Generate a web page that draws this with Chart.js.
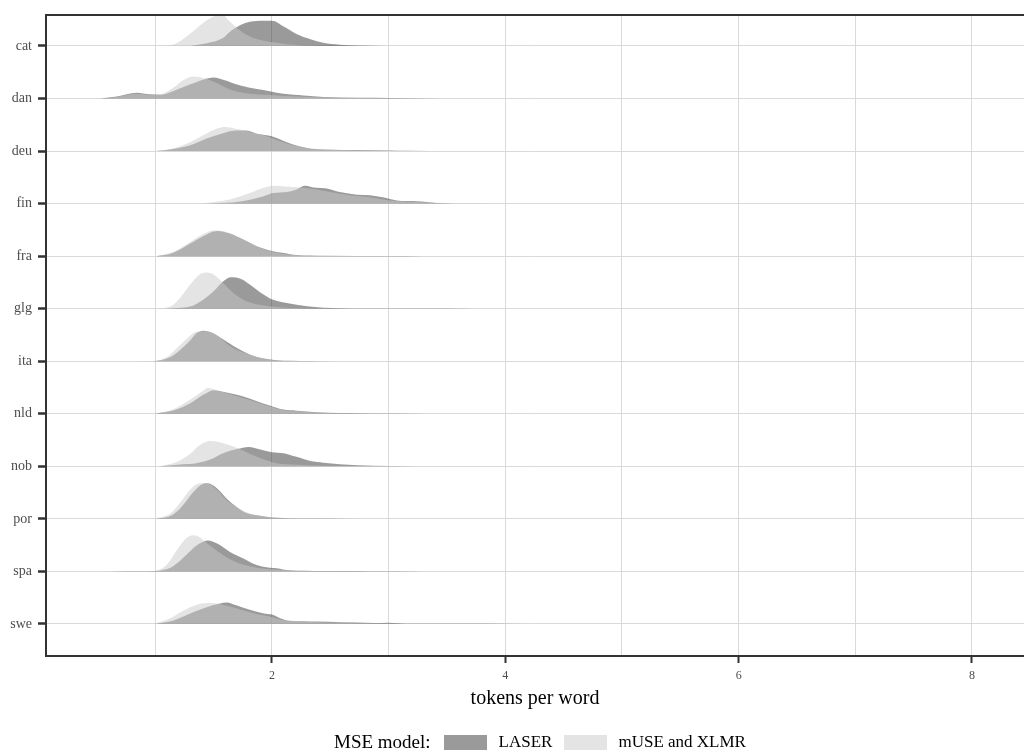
<!DOCTYPE html>
<html>
<head>
<meta charset="utf-8">
<script src="https://cdn.jsdelivr.net/npm/chart.js@4.4.1/dist/chart.umd.min.js"></script>
<style>
  body { margin: 0; background: #fff; overflow: hidden; }
  #wrap { position: relative; width: 1024px; height: 751px; }
  #legend { position: absolute; left: 334px; top: 731px; display: flex; align-items: center;
            font-family: "Liberation Serif", serif; color: #000; white-space: nowrap; line-height: 22px; }
  #legend .ttl { font-size: 19px; }
  #legend .lab { font-size: 17px; }
  #legend .key { display: inline-block; width: 43px; height: 15px; margin: 0 12px 0 13px; }
  #legend .key.second { margin: 0 11px 0 12px; }
</style>
</head>
<body>
<div id="wrap">
  <canvas id="myChart" width="1024" height="751"></canvas>
  <div id="legend">
    <span class="ttl">MSE model:</span>
    <span class="key" id="keyLaser"></span><span class="lab">LASER</span>
    <span class="key second" id="keyMuse"></span><span class="lab">mUSE and XLMR</span>
  </div>
</div>
<script>
// languages, top to bottom
var languages = ['cat', 'dan', 'deu', 'fin', 'fra', 'glg', 'ita', 'nld', 'nob', 'por', 'spa', 'swe'];
var yTicks = [1, 2, 3, 4, 5, 6, 7, 8, 9, 10, 11, 12];
var xTicks = [1, 2, 3, 4, 5, 6, 7, 8];
var xLabels = ['', '2', '', '4', '', '6', '', '8'];

// ridge heights: [tokens per word, height in row units]
var laser_cat = [[1.30,0],[1.44,0.05],[1.58,0.15],[1.64,0.27],[1.73,0.40],[1.81,0.46],[1.93,0.48],[2.00,0.48],[2.10,0.37],[2.21,0.23],[2.33,0.13],[2.44,0.06],[2.58,0.025],[2.73,0.01],[2.95,0]];
var muse_cat  = [[1.10,0],[1.18,0.05],[1.30,0.24],[1.41,0.44],[1.51,0.57],[1.57,0.60],[1.64,0.46],[1.73,0.29],[1.81,0.18],[1.93,0.10],[2.04,0.06],[2.15,0.03],[2.32,0.01],[2.50,0]];

var laser_dan = [[0.53,0],[0.67,0.04],[0.84,0.11],[0.95,0.08],[1.04,0.07],[1.15,0.14],[1.30,0.27],[1.41,0.36],[1.50,0.40],[1.58,0.36],[1.73,0.25],[1.87,0.18],[1.98,0.14],[2.10,0.09],[2.27,0.06],[2.44,0.03],[2.73,0.013],[3.01,0.01],[3.44,0]];
var muse_dan  = [[0.53,0],[0.67,0.03],[0.84,0.09],[0.95,0.07],[1.04,0.08],[1.15,0.20],[1.24,0.35],[1.33,0.42],[1.41,0.39],[1.53,0.29],[1.64,0.17],[1.75,0.11],[1.93,0.07],[2.10,0.05],[2.33,0.03],[2.61,0.01],[3.01,0]];

var laser_deu = [[1.01,0],[1.18,0.05],[1.30,0.11],[1.44,0.24],[1.58,0.34],[1.70,0.39],[1.78,0.39],[1.87,0.33],[1.98,0.29],[2.04,0.25],[2.15,0.15],[2.30,0.06],[2.44,0.03],[2.73,0.02],[3.01,0.013],[3.15,0.005],[3.58,0]];
var muse_deu  = [[1.01,0],[1.15,0.05],[1.30,0.17],[1.41,0.30],[1.53,0.43],[1.60,0.46],[1.70,0.42],[1.81,0.37],[1.93,0.30],[2.04,0.21],[2.15,0.13],[2.30,0.06],[2.50,0.03],[2.87,0.01],[3.30,0]];

var laser_fin = [[1.44,0],[1.73,0.04],[1.93,0.14],[2.01,0.20],[2.13,0.22],[2.21,0.27],[2.28,0.34],[2.38,0.30],[2.47,0.29],[2.58,0.22],[2.73,0.17],[2.84,0.16],[2.95,0.12],[3.07,0.06],[3.24,0.045],[3.41,0.013],[3.73,0.004],[4.44,0.003],[5.58,0]];
var muse_fin  = [[1.38,0],[1.64,0.08],[1.81,0.20],[1.93,0.30],[2.01,0.34],[2.15,0.32],[2.27,0.30],[2.38,0.27],[2.50,0.22],[2.67,0.16],[2.84,0.12],[3.01,0.06],[3.24,0.03],[3.58,0.005],[4.15,0]];

var laser_fra = [[1.01,0],[1.15,0.06],[1.30,0.24],[1.41,0.38],[1.53,0.48],[1.64,0.43],[1.75,0.32],[1.87,0.19],[1.98,0.11],[2.10,0.06],[2.21,0.02],[2.44,0.006],[3.01,0.002],[3.30,0]];
var muse_fra  = [[1.00,0],[1.15,0.08],[1.30,0.27],[1.41,0.42],[1.50,0.49],[1.61,0.46],[1.75,0.32],[1.87,0.19],[1.98,0.10],[2.15,0.03],[2.44,0.005],[2.87,0]];

var laser_glg = [[1.10,0],[1.30,0.04],[1.41,0.17],[1.50,0.33],[1.58,0.52],[1.65,0.60],[1.73,0.57],[1.81,0.46],[1.90,0.31],[2.01,0.17],[2.15,0.10],[2.30,0.045],[2.44,0.02],[2.73,0.006],[3.30,0.002],[3.73,0]];
var muse_glg  = [[1.01,0],[1.13,0.04],[1.21,0.20],[1.30,0.46],[1.38,0.65],[1.43,0.69],[1.50,0.65],[1.58,0.49],[1.67,0.30],[1.78,0.14],[1.93,0.06],[2.15,0.013],[2.44,0]];

var laser_ita = [[0.75,0],[0.98,0.002],[1.13,0.08],[1.21,0.21],[1.30,0.40],[1.35,0.53],[1.41,0.58],[1.50,0.53],[1.58,0.42],[1.70,0.25],[1.81,0.13],[1.93,0.05],[2.04,0.02],[2.30,0.005],[2.73,0]];
var muse_ita  = [[0.75,0],[0.98,0.005],[1.10,0.08],[1.18,0.24],[1.27,0.43],[1.35,0.56],[1.43,0.57],[1.53,0.49],[1.64,0.29],[1.75,0.17],[1.87,0.08],[1.98,0.03],[2.21,0.006],[2.58,0]];

var laser_nld = [[1.00,0],[1.18,0.08],[1.30,0.20],[1.41,0.36],[1.50,0.45],[1.58,0.42],[1.70,0.36],[1.78,0.31],[1.87,0.24],[1.98,0.16],[2.10,0.08],[2.21,0.06],[2.38,0.03],[2.58,0.013],[2.87,0.006],[3.30,0.003],[3.87,0]];
var muse_nld  = [[1.00,0],[1.15,0.08],[1.30,0.27],[1.41,0.44],[1.45,0.49],[1.53,0.45],[1.64,0.37],[1.75,0.30],[1.87,0.22],[1.98,0.14],[2.10,0.07],[2.27,0.04],[2.50,0.015],[2.87,0.004],[3.30,0]];

var laser_nob = [[1.04,0],[1.24,0.04],[1.35,0.06],[1.47,0.13],[1.58,0.25],[1.70,0.33],[1.80,0.37],[1.90,0.32],[2.00,0.27],[2.10,0.25],[2.21,0.18],[2.33,0.10],[2.44,0.07],[2.58,0.04],[2.73,0.02],[3.01,0.006],[3.44,0]];
var muse_nob  = [[1.04,0],[1.18,0.08],[1.30,0.24],[1.38,0.40],[1.47,0.48],[1.55,0.46],[1.64,0.40],[1.73,0.32],[1.81,0.24],[1.93,0.13],[2.04,0.06],[2.21,0.03],[2.44,0.01],[2.87,0]];

var laser_por = [[1.00,0],[1.15,0.08],[1.24,0.27],[1.33,0.52],[1.41,0.67],[1.45,0.68],[1.53,0.58],[1.61,0.39],[1.70,0.22],[1.78,0.11],[1.90,0.06],[2.04,0.02],[2.44,0.005],[3.01,0]];
var muse_por  = [[0.98,0],[1.13,0.10],[1.21,0.30],[1.30,0.56],[1.38,0.68],[1.44,0.68],[1.53,0.55],[1.61,0.36],[1.70,0.22],[1.81,0.10],[1.95,0.04],[2.21,0.01],[2.58,0]];

var laser_spa = [[0.61,0],[0.87,0.005],[1.00,0.01],[1.13,0.07],[1.21,0.20],[1.30,0.39],[1.38,0.53],[1.45,0.59],[1.53,0.53],[1.64,0.37],[1.75,0.25],[1.87,0.12],[1.98,0.07],[2.04,0.06],[2.15,0.02],[2.44,0.006],[2.87,0.003],[3.30,0]];
var muse_spa  = [[0.61,0],[0.87,0.005],[1.00,0.01],[1.10,0.13],[1.18,0.39],[1.27,0.64],[1.33,0.69],[1.38,0.65],[1.44,0.54],[1.53,0.39],[1.64,0.23],[1.75,0.13],[1.87,0.07],[2.04,0.03],[2.30,0.01],[2.73,0]];

var laser_swe = [[1.00,0],[1.15,0.06],[1.27,0.17],[1.38,0.27],[1.50,0.36],[1.61,0.41],[1.70,0.35],[1.81,0.27],[1.93,0.20],[2.00,0.18],[2.07,0.11],[2.15,0.06],[2.38,0.045],[2.58,0.03],[2.87,0.02],[3.00,0.025],[3.15,0.006],[3.58,0.002],[4.15,0]];
var muse_swe  = [[0.98,0],[1.13,0.11],[1.24,0.25],[1.35,0.36],[1.44,0.40],[1.53,0.39],[1.64,0.33],[1.75,0.26],[1.87,0.19],[1.98,0.14],[2.10,0.07],[2.30,0.04],[2.58,0.02],[3.01,0.01],[3.44,0]];

var laser = [laser_cat, laser_dan, laser_deu, laser_fin, laser_fra, laser_glg, laser_ita, laser_nld, laser_nob, laser_por, laser_spa, laser_swe];
var muse = [muse_cat, muse_dan, muse_deu, muse_fin, muse_fra, muse_glg, muse_ita, muse_nld, muse_nob, muse_por, muse_spa, muse_swe];

var laserFill = 'rgba(53,53,53,0.5)';
var museFill = 'rgba(201,201,201,0.5)';
var serif = '"Liberation Serif", serif';

document.getElementById('keyLaser').style.background = laserFill;
document.getElementById('keyMuse').style.background = museFill;

function ridge(pairs, base) {
  return pairs.map(function(p) { return {x: p[0], y: base + p[1]}; });
}

var datasets = [];
languages.forEach(function(lang, i) {
  var base = languages.length - i;
  // mUSE first so it is drawn over LASER
  datasets.push({label: 'mUSE and XLMR', data: ridge(muse[i], base), fill: {value: base},
    backgroundColor: museFill, borderColor: 'rgba(0,0,0,0)', borderWidth: 0});
  datasets.push({label: 'LASER', data: ridge(laser[i], base), fill: {value: base},
    backgroundColor: laserFill, borderColor: 'rgba(0,0,0,0)', borderWidth: 0});
});

var topBorder = {
  id: 'topBorder',
  afterDatasetsDraw: function(chart) {
    var a = chart.chartArea, c = chart.ctx;
    c.save();
    c.strokeStyle = '#333333';
    c.lineWidth = 2;
    c.beginPath();
    c.moveTo(a.left - 1, a.top);
    c.lineTo(a.right, a.top);
    c.stroke();
    c.restore();
  }
};

var ctx = document.getElementById('myChart');
var myChart = new Chart(ctx, {
  type: 'line',
  data: {datasets: datasets},
  plugins: [topBorder],
  options: {
    responsive: false,
    animation: false,
    layout: {padding: {top: 15, right: 0, bottom: 40, left: 0}},
    plugins: {legend: {display: false}, tooltip: {enabled: false}},
    elements: {
      point: {radius: 0},
      line: {tension: 0.4, cubicInterpolationMode: 'monotone'}
    },
    scales: {
      x: {
        type: 'linear', min: 0.063, max: 8.446,
        afterBuildTicks: function(s) { s.ticks = xTicks.map(function(v) { return {value: v}; }); },
        afterFit: function(s) { s.height = 55; },
        ticks: {autoSkip: false, maxRotation: 0, padding: 6, color: '#4d4d4d', font: {family: serif, size: 12},
          callback: function(v) { return xLabels[xTicks.indexOf(v)]; }},
        grid: {color: '#d9d9d9', lineWidth: 1, tickLength: 7, tickWidth: 2,
          tickColor: function(c) { return c.tick && c.tick.value % 2 === 0 ? '#333333' : 'rgba(0,0,0,0)'; }},
        border: {color: '#333333', width: 2},
        title: {display: true, text: 'tokens per word', color: '#000', font: {family: serif, size: 20}, padding: {top: 4, bottom: 0}}
      },
      y: {
        type: 'linear', min: 0.39, max: 12.59,
        afterBuildTicks: function(s) { s.ticks = yTicks.map(function(v) { return {value: v}; }); },
        afterFit: function(s) { s.width = 46; },
        ticks: {autoSkip: false, padding: 6, color: '#4d4d4d', font: {family: serif, size: 14},
          callback: function(v) { return languages[languages.length - v]; }},
        grid: {color: '#d9d9d9', lineWidth: 1, tickLength: 8, tickWidth: 2.5, tickColor: '#333333'},
        border: {color: '#333333', width: 2}
      }
    }
  }
});
</script>
</body>
</html>
